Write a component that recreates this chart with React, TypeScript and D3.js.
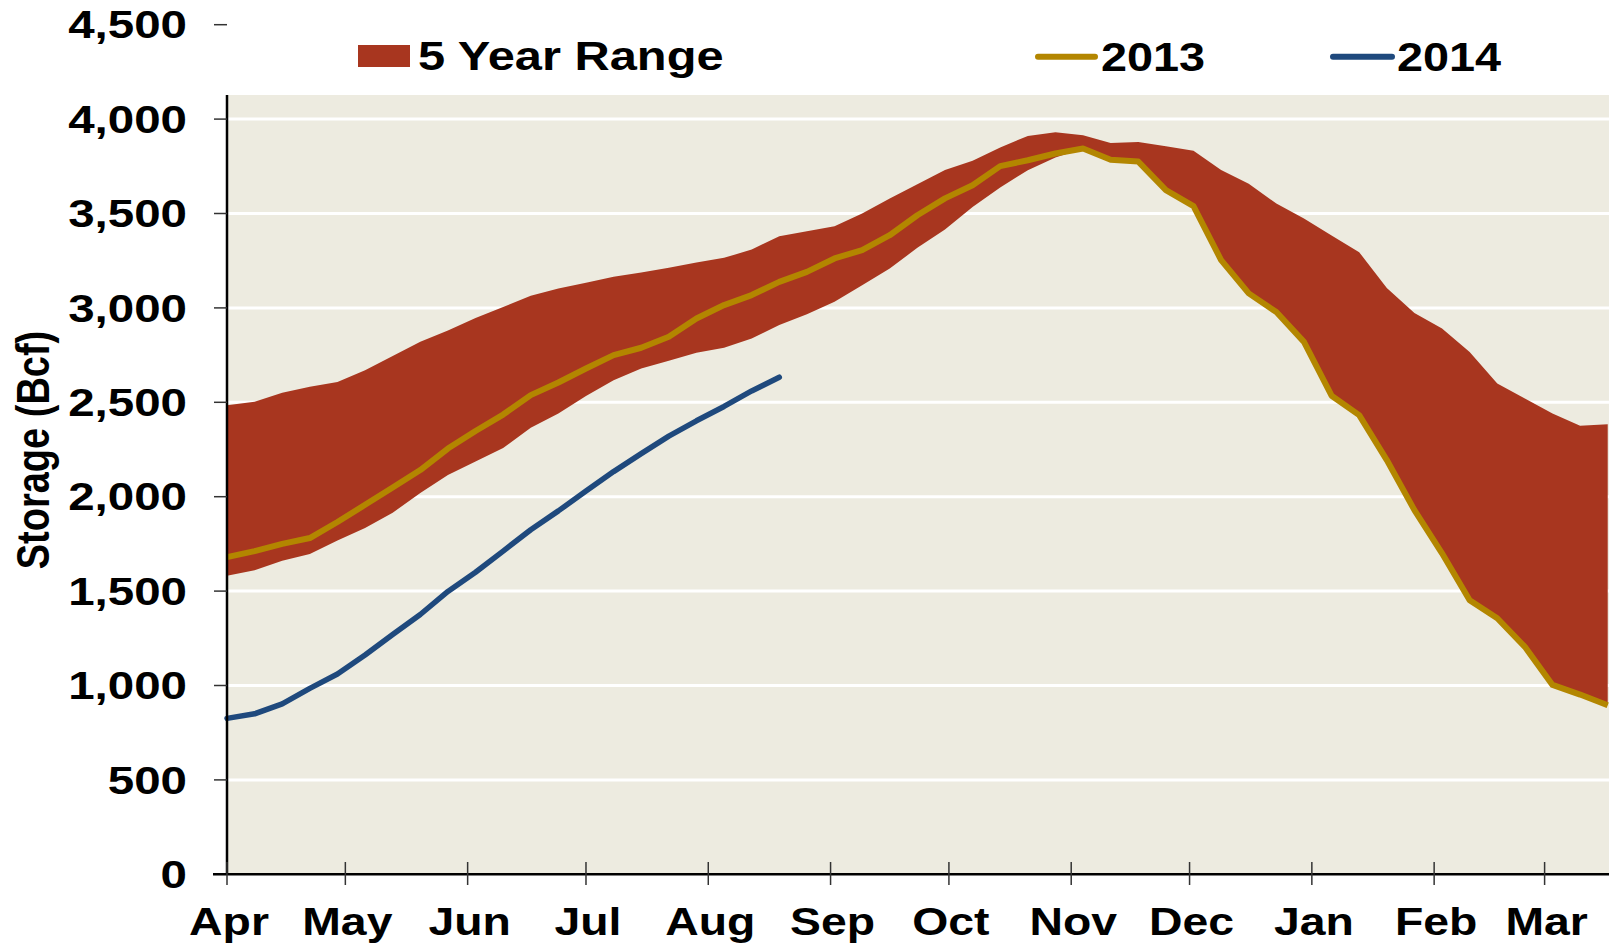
import React from 'react';
import * as d3 from 'd3';

const WIDTH = 1609;
const HEIGHT = 946;
const FONT = '"Liberation Sans", Arial, sans-serif';
const SX = 1.25; // the original picture is stretched sideways

// weekly storage points, starting at the first week of April
const seasonStart = new Date(2013, 3, 1);
const weeks = d3.range(51).map(i => d3.timeDay.offset(seasonStart, i * 7));

const rangeHigh = [
  2485, 2503, 2550, 2582, 2608, 2670, 2745, 2821, 2880, 2946,
  3005, 3065, 3103, 3133, 3165, 3188, 3212, 3240, 3265, 3309,
  3380, 3406, 3433, 3500, 3580, 3655, 3730, 3779, 3850, 3911,
  3931, 3915, 3874, 3879, 3856, 3832, 3731, 3657, 3553, 3474,
  3383, 3295, 3106, 2973, 2891, 2767, 2600, 2520, 2441, 2376,
  2384,
];

const rangeLow = [
  1581, 1611, 1661, 1696, 1768, 1834, 1915, 2020, 2115, 2187,
  2258, 2365, 2441, 2533, 2617, 2679, 2720, 2762, 2789, 2838,
  2909, 2967, 3032, 3120, 3209, 3318, 3415, 3535, 3638, 3729,
  3797, 3844, 3785, 3775, 3624, 3539, 3253, 3077, 2978, 2820,
  2535, 2432, 2194, 1929, 1700, 1452, 1356, 1205, 1003, 952,
  895,
];

const storage2013 = [
  1680, 1712, 1750, 1781, 1866, 1957, 2049, 2141, 2255, 2348,
  2435, 2538, 2605, 2679, 2750, 2789, 2847, 2944, 3015, 3068,
  3138, 3191, 3262, 3306, 3385, 3491, 3580, 3650, 3751, 3782,
  3818, 3844, 3785, 3775, 3624, 3539, 3253, 3077, 2978, 2820,
  2535, 2432, 2194, 1929, 1700, 1452, 1356, 1205, 1003, 952,
  895,
];

const storage2014 = [
  826, 850, 903, 985, 1061, 1162, 1270, 1376, 1498, 1600,
  1712, 1825, 1925, 2030, 2133, 2228, 2321, 2402, 2478, 2560,
  2633,
];

const yTicks = [0, 500, 1000, 1500, 2000, 2500, 3000, 3500, 4000, 4500];
const gridValues = [500, 1000, 1500, 2000, 2500, 3000, 3500, 4000];
const monthLabels = ['Apr', 'May', 'Jun', 'Jul', 'Aug', 'Sep', 'Oct', 'Nov', 'Dec', 'Jan', 'Feb', 'Mar'];

const COLORS = {
  band: '#A8361F',
  y2013: '#B38600',
  y2014: '#1F497D',
  plotBg: '#EDEBE0',
};

const App: React.FC = () => {
  const left = 227;
  const bottom = 874.3;
  const plotTop = 95;

  const x = d3.scaleTime()
    .domain([seasonStart, new Date(2014, 2, 1)])
    .range([left, 1544.6]);

  const y = d3.scaleLinear()
    .domain([0, 4500])
    .range([bottom, 24.7]);

  const monthTicks = d3.timeMonth.range(seasonStart, new Date(2014, 3, 1));

  const band = d3.area<number>()
    .x((d, i) => x(weeks[i]))
    .y0((d, i) => y(rangeLow[i]))
    .y1(d => y(d));

  const line = d3.line<number>()
    .x((d, i) => x(weeks[i]))
    .y(d => y(d));

  const textProps = {
    fontFamily: FONT,
    fontWeight: 700,
    fill: '#000',
  };

  return (
    <svg
      width={WIDTH}
      height={HEIGHT}
      style={{ position: 'absolute', left: 0, top: 0, background: '#fff' }}
    >
      <rect x={left} y={plotTop} width={WIDTH - left} height={bottom - plotTop} fill={COLORS.plotBg} />

      {gridValues.map(v => (
        <line key={v} x1={left} x2={WIDTH} y1={y(v)} y2={y(v)} stroke="#fff" strokeWidth={3} />
      ))}

      <path d={band(rangeHigh) || ''} fill={COLORS.band} />
      <path d={line(storage2013) || ''} fill="none" stroke={COLORS.y2013} strokeWidth={6} strokeLinejoin="round" />
      <path d={line(storage2014) || ''} fill="none" stroke={COLORS.y2014} strokeWidth={5.5} strokeLinejoin="round" strokeLinecap="round" />

      {/* y axis */}
      <line x1={left} x2={left} y1={plotTop} y2={bottom} stroke="#000" strokeWidth={2.5} />
      {yTicks.map(v => (
        <g key={v}>
          <line x1={214} x2={left} y1={y(v)} y2={y(v)} stroke="#333" strokeWidth={1.5} />
          <text
            {...textProps}
            fontSize={38}
            textAnchor="end"
            transform={`translate(187,${y(v) + 13.6}) scale(${SX},1)`}
          >
            {d3.format(',')(v)}
          </text>
        </g>
      ))}
      <text
        {...textProps}
        fontSize={38}
        textAnchor="middle"
        transform={`translate(49,450) scale(1.2,1) rotate(-90)`}
      >
        Storage (Bcf)
      </text>

      {/* x axis */}
      <line x1={213} x2={WIDTH} y1={bottom} y2={bottom} stroke="#000" strokeWidth={2.5} />
      {monthTicks.map((m, i) => (
        <g key={i}>
          <line x1={x(m)} x2={x(m)} y1={862} y2={885} stroke="#333" strokeWidth={1.5} />
          <text
            {...textProps}
            fontSize={38}
            textAnchor="middle"
            transform={`translate(${x(m) + 2},935) scale(1.22,1)`}
          >
            {monthLabels[i]}
          </text>
        </g>
      ))}

      {/* legend */}
      <rect x={358} y={45} width={52} height={22} fill={COLORS.band} />
      <text {...textProps} fontSize={40} transform={`translate(418,69.5) scale(1.22,1)`}>5 Year Range</text>

      <line x1={1038} x2={1095} y1={56.7} y2={56.7} stroke={COLORS.y2013} strokeWidth={6} strokeLinecap="round" />
      <text {...textProps} fontSize={40} transform={`translate(1101,70.5) scale(1.17,1)`}>2013</text>

      <line x1={1333} x2={1392} y1={56.7} y2={56.7} stroke={COLORS.y2014} strokeWidth={6} strokeLinecap="round" />
      <text {...textProps} fontSize={40} transform={`translate(1397,70.5) scale(1.17,1)`}>2014</text>
    </svg>
  );
};

export default App;
